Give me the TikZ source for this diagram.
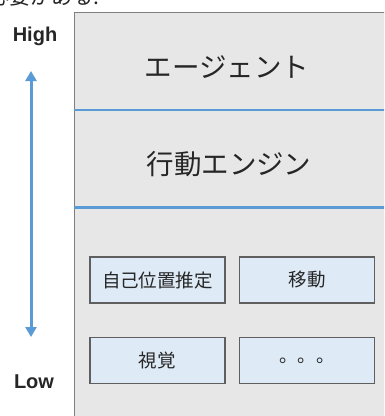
\documentclass[tikz,border=0pt]{standalone}
\usepackage{fontspec}
\setmainfont{Liberation Sans}
\newfontfamily\jp{Noto Sans CJK JP}
\usetikzlibrary{arrows.meta}
\definecolor{panelgray}{HTML}{E7E7E7}
\definecolor{panelborder}{HTML}{7F7F7F}
\definecolor{layerblue}{HTML}{5B9BD5}
\definecolor{boxfill}{HTML}{DEEAF6}
\definecolor{boxborder}{HTML}{5F5F5F}
\definecolor{txt}{HTML}{262626}
\tikzset{
  layertext/.style={font=\jp\fontsize{27.5}{30}\selectfont, text=txt, inner sep=0pt},
  modbox/.style={draw=boxborder, line width=1.4pt, fill=boxfill, minimum width=135pt, minimum height=46pt, inner sep=0pt, font=\jp\fontsize{18.5}{22}\selectfont, text=txt},
  divider/.style={draw=layerblue, line width=2.4pt},
  levellabel/.style={font=\bfseries\fontsize{20}{24}\selectfont, text=txt, inner sep=0pt},
  levelarrow/.style={draw=layerblue, line width=3pt, {Triangle[width=11pt,length=10pt]}-{Triangle[width=11pt,length=10pt]}}
}
\begin{document}
\begin{tikzpicture}[x=1pt,y=-1pt]
\useasboundingbox (0,0) rectangle (384,416);
\clip (0,0) rectangle (384,416);
\fill[white] (0,0) rectangle (384,416);
% clipped line of text above
\node[anchor=base west, inner sep=0pt, font=\jp\fontsize{21}{24}\selectfont, text=txt] (prev) at (-12,4) {必要がある.};
% panel
\fill[panelgray] (74,12) rectangle (400,430);
\draw[panelborder, line width=1pt] (74,430) -- (74,12) -- (400,12);
% dividers
\coordinate (d1l) at (74,110);
\coordinate (d1r) at (400,110);
\coordinate (d2l) at (74,207.5);
\coordinate (d2r) at (400,207.5);
\draw[divider] (d1l) -- (d1r);
\draw[divider] (d2l) -- (d2r);
% layer texts
\node[layertext] (agent) at (227,67) {エージェント};
\node[layertext] (engine) at (229,164) {行動エンジン};
% module boxes
\node[modbox] (loc) at (157.5,280) {自己位置推定};
\node[modbox] (move) at (307,280) {移動};
\node[modbox] (vision) at (157.5,360.5) {視覚};
\node[modbox] (etc) at (307,360.5) {。。。};
% level axis
\node[levellabel] (high) at (35,36.5) {High};
\node[levellabel] (low) at (34,381.5) {Low};
\coordinate (atop) at (31,71);
\coordinate (abot) at (31,337);
\draw[levelarrow] (atop) -- (abot);
\end{tikzpicture}
\end{document}
